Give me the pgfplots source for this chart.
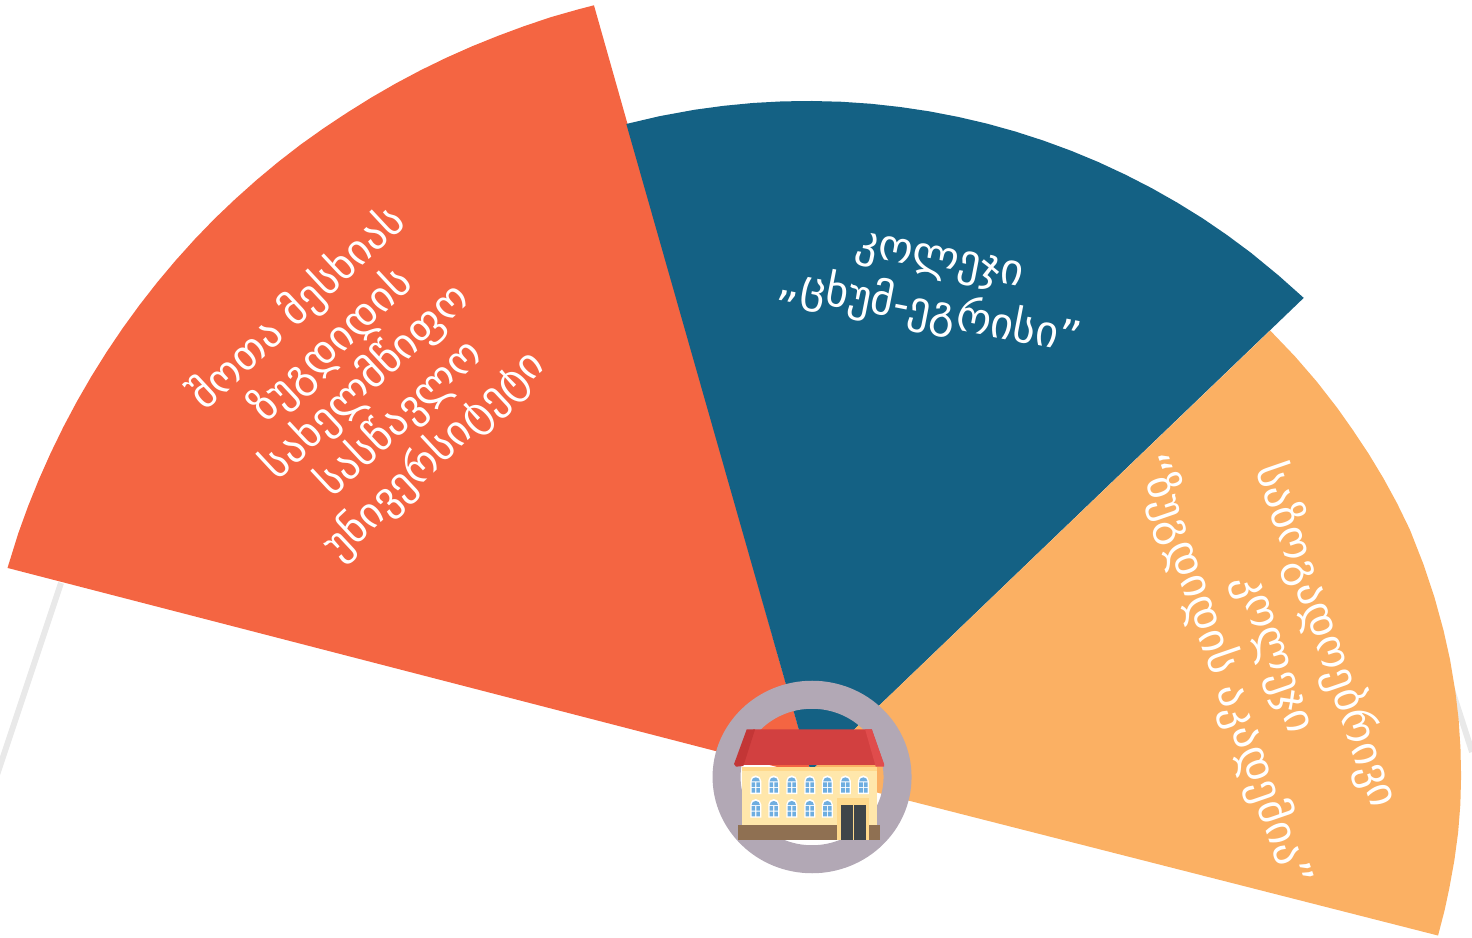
\documentclass[border=0pt]{standalone}
\usepackage{fontspec}
\usepackage{pgfplots}
\pgfplotsset{compat=1.18}
\usepgfplotslibrary{polar}
\setmainfont{DejaVu Sans}

\definecolor{wedgeA}{HTML}{F46542}
\definecolor{wedgeB}{HTML}{146184}
\definecolor{wedgeC}{HTML}{FBB063}
\definecolor{ringc}{HTML}{B2A8B5}
\definecolor{guide}{HTML}{E9E9E9}
\definecolor{wall}{HTML}{FFE7AB}
\definecolor{trim}{HTML}{FFD98C}
\definecolor{roofm}{HTML}{D24040}
\definecolor{roofd}{HTML}{C33636}
\definecolor{roofl}{HTML}{E04C4C}
\definecolor{basec}{HTML}{8F7052}
\definecolor{doorc}{HTML}{3F4549}
\definecolor{pane}{HTML}{6FAEE0}

% one window of the building icon, 1 px = 1 pt
\pgfdeclareplotmark{win}{%
  \pgfsetfillcolor{white}%
  \pgfpathmoveto{\pgfpoint{-5.5pt}{-9.3pt}}%
  \pgfpathlineto{\pgfpoint{-5.5pt}{3.8pt}}%
  \pgfpatharc{180}{0}{5.5pt}%
  \pgfpathlineto{\pgfpoint{5.5pt}{-9.3pt}}%
  \pgfpathclose\pgfusepath{fill}%
  \pgfsetfillcolor{pane}%
  \pgfpathmoveto{\pgfpoint{-4.2pt}{3.2pt}}%
  \pgfpatharc{180}{0}{4.2pt}%
  \pgfpathclose\pgfusepath{fill}%
  \pgfpathrectangle{\pgfpoint{-4.2pt}{-2.4pt}}{\pgfpoint{3.6pt}{4.6pt}}%
  \pgfpathrectangle{\pgfpoint{0.6pt}{-2.4pt}}{\pgfpoint{3.6pt}{4.6pt}}%
  \pgfpathrectangle{\pgfpoint{-4.2pt}{-8pt}}{\pgfpoint{3.6pt}{4.6pt}}%
  \pgfpathrectangle{\pgfpoint{0.6pt}{-8pt}}{\pgfpoint{3.6pt}{4.6pt}}%
  \pgfusepath{fill}%
}

\newcommand{\boxplot}[5]{\addplot[fill=#1,draw=none] coordinates {(#2,#3) (#4,#3) (#4,#5) (#2,#5)} --cycle;}

\begin{document}
\begin{tikzpicture}
\useasboundingbox (0,0) rectangle (1472pt,937pt);
\begin{axis}[
  at={(0pt,0pt)},anchor=south west,
  scale only axis,width=1472pt,height=937pt,
  xmin=-812,xmax=660,ymin=-161,ymax=776,
  hide axis,clip mode=individual,
]
% pale guide lines behind the wedges
\addplot[color=guide,line width=6pt] coordinates {(-751,193) (-815,1)};
\addplot[color=guide,line width=6pt] coordinates {(630,117) (660,24)};

% wedges, (angle, radius) around the hub
\addplot[fill=wedgeA,draw=none,data cs=polar] coordinates {
  (0,0) (165.5,831) (163,830) (161,829) (159,828) (157,827) (155,826) (153,825)
  (151,824) (149,823) (147,822) (145,821) (143,820) (141,819) (139,818) (137,817)
  (135,815.8) (133,814.7) (131,813.6) (129,812.5) (127,811.2) (125,810) (123,809)
  (121,808) (119,807) (117,806) (115,805) (113,804) (111,803.2) (109,802.5)
  (107,801.5) (105.8,801)
} --cycle;
\addplot[fill=wedgeB,draw=none,data cs=polar] coordinates {
  (90,6) (44.2,685.8) (47,684.2) (50,682.9) (52.5,681.8) (55,680.8) (57.5,679.8)
  (60,678.9) (62.5,678.1) (65,677.4) (67.5,676.8) (70,676.2) (72.5,675.8) (75,675.4)
  (77.5,675.1) (80,674.9) (82.5,674.8) (85,674.8) (87.5,674.9) (90,675) (92.5,675.3)
  (95,675.6) (97.5,676) (100,676.5) (103,677.2) (105.9,678)
  (0,0)
} --cycle;
\addplot[fill=wedgeC,draw=none,data cs=polar] coordinates {
  (0,0) (-14.3,646) (-12,646.6) (-10,647) (-7.5,647.8) (-5,648.5) (-2.5,648.9) (0,649)
  (2.5,649) (5,649) (7.5,648.8) (10.3,648.5) (13,648) (16,647.5) (19,647) (22.4,646.6)
  (25,645.4) (27.5,644.3) (30,643.1) (32.6,642) (35,641.3) (38,640.5) (41,639.7)
  (44.2,639) (90,6)
} --cycle;

% hub ring, a little flattened as in the source
\addplot[only marks,mark=o,mark size=85.5pt,
  mark options={color=ringc,line width=28pt,yscale=0.962}] coordinates {(0,-1)};

% building
\boxplot{wall}{-70.3}{-50.7}{65.3}{9.3}
\boxplot{trim}{-70.3}{5}{65.3}{9.3}
\addplot[fill=roofm,draw=none] coordinates {(-58.7,46.7) (59.7,46.7) (72,11) (-77,11)} --cycle;
\addplot[fill=roofd,draw=none] coordinates {(-65.3,46.7) (-57,46.7) (-68.7,10) (-76,9.3) (-78,12)} --cycle;
\addplot[fill=roofl,draw=none] coordinates {(53,46.7) (59.7,46.7) (72,12) (72,9.3) (63.7,9.3)} --cycle;
\boxplot{basec}{-74}{-64}{25}{-49}
\boxplot{basec}{57}{-64}{68}{-49}
\boxplot{trim}{25}{-64}{57}{-22}
\boxplot{doorc}{29}{-64}{40.7}{-29}
\boxplot{doorc}{42}{-64}{54}{-29}
\addplot[only marks,mark=win] coordinates {
  (-56.3,-8.7) (-38.3,-8.7) (-20.3,-8.7) (-2.3,-8.7) (15.3,-8.7) (33.3,-8.7) (51.3,-8.7)
  (-56.3,-32.3) (-38.3,-32.3) (-20.3,-32.3) (-2.3,-32.3) (15.3,-32.3)
};

% labels
\node[rotate=43,align=center,text=white,font=\fontsize{42}{50}\selectfont] at (axis cs:-446,394)
  {შოთა მესხიას\\ზუგდიდის\\სახელმწიფო\\სასწავლო\\უნივერსიტეტი};
\node[rotate=-11,align=center,text=white,font=\fontsize{44}{55}\selectfont] at (axis cs:122,486)
  {კოლეჯი\\„ცხუმ-ეგრისი”};
\node[rotate=-71,align=center,text=white,font=\fontsize{43}{54}\selectfont] at (axis cs:463,123)
  {საზოგადოებრივი\\კოლეჯი\\“ზუგდიდის აკადემია”};
\end{axis}
\end{tikzpicture}
\end{document}
